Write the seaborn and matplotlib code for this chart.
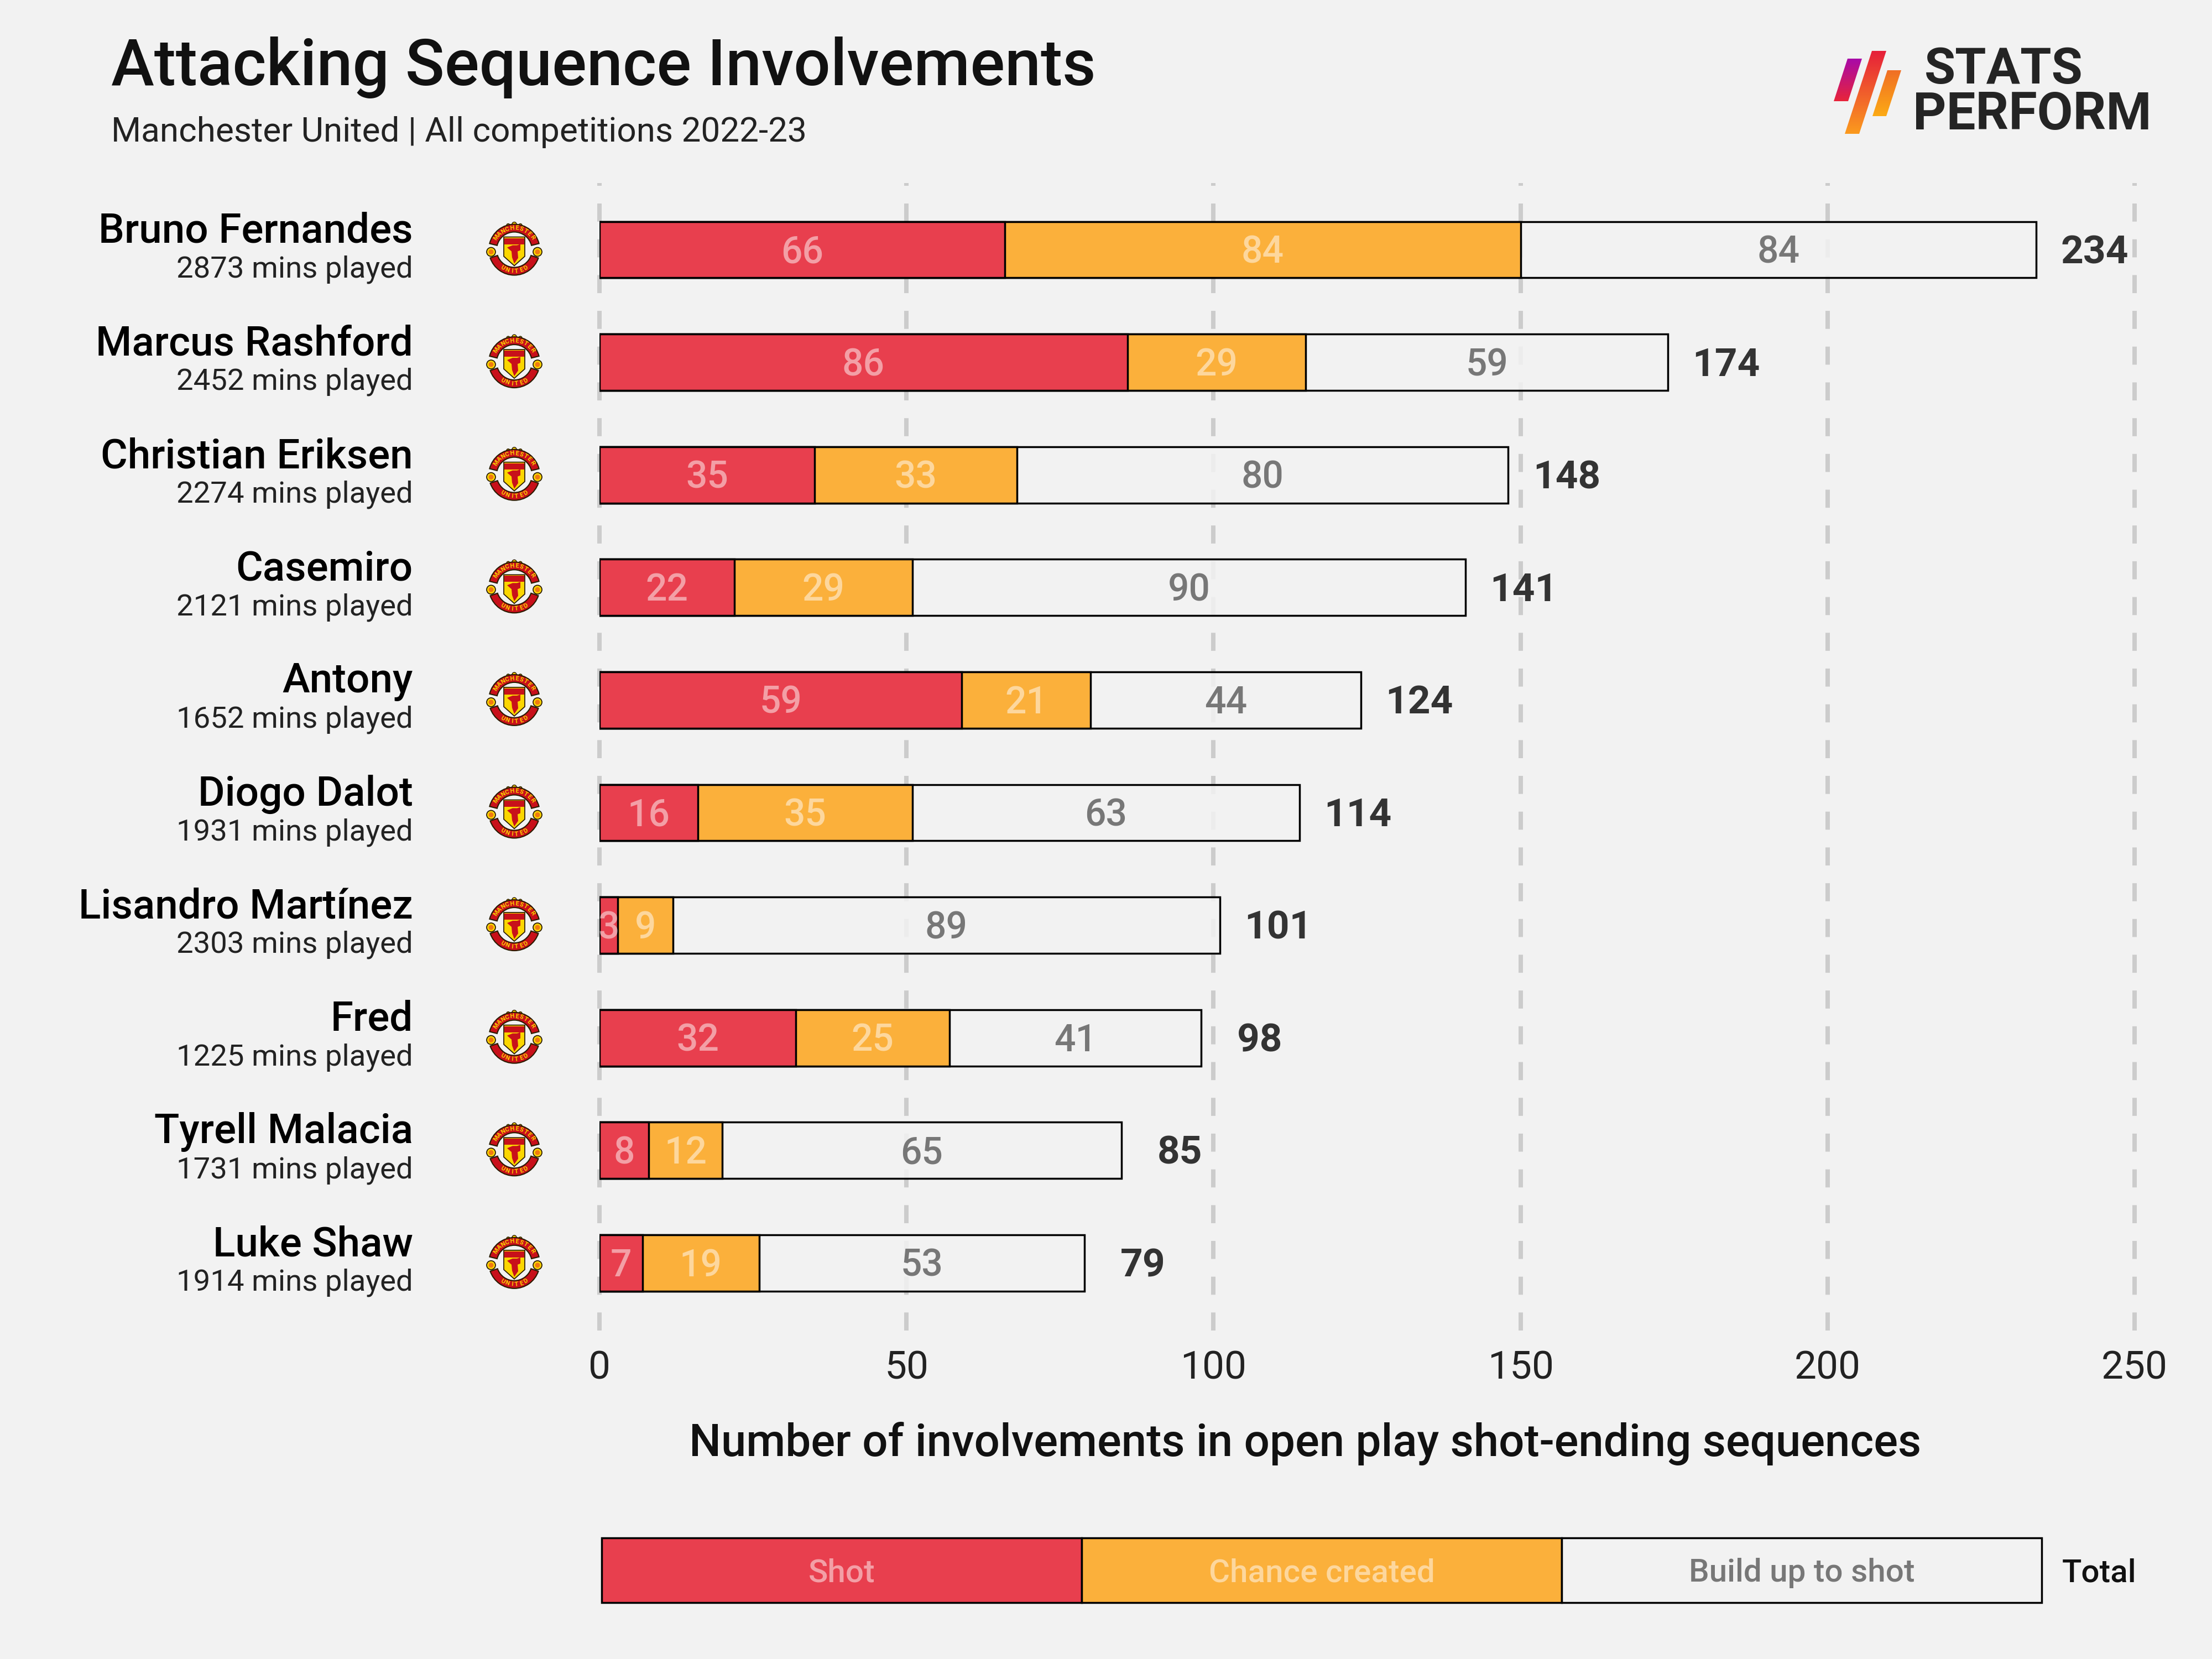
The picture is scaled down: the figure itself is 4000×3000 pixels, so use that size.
import numpy as np
import pandas as pd
import matplotlib.pyplot as plt
import seaborn as sns
from matplotlib.colors import to_rgb
from matplotlib.patches import Circle, Polygon, Rectangle, Wedge

# Values
players = ['Bruno Fernandes', 'Marcus Rashford', 'Christian Eriksen', 'Casemiro', 'Antony',
           'Diogo Dalot', 'Lisandro Martínez', 'Fred', 'Tyrell Malacia', 'Luke Shaw']
minutes = [2873, 2452, 2274, 2121, 1652, 1931, 2303, 1225, 1731, 1914]
shot = [66, 86, 35, 22, 59, 16, 3, 32, 8, 7]
chance = [84, 29, 33, 29, 21, 35, 9, 25, 12, 19]
build_up = [84, 59, 80, 90, 44, 63, 89, 41, 65, 53]
x_ticks = [0, 50, 100, 150, 200, 250]
legend_labels = ['Shot', 'Chance created', 'Build up to shot']

BG = '#f2f2f2'
RED = '#e83f4e'
ORANGE = '#fbb03b'
FONT = ['Roboto', 'DejaVu Sans']

sns.set_theme(style='white', rc={'figure.facecolor': BG, 'axes.facecolor': BG})
plt.rcParams['font.family'] = FONT

df = pd.DataFrame({'player': players, 'shot': shot, 'chance': chance, 'build_up': build_up})
df['to_chance'] = df['shot'] + df['chance']
df['total'] = df['to_chance'] + df['build_up']

fig = plt.figure(figsize=(16, 12), dpi=250)
fig.patch.set_facecolor(BG)

# main axes: x 0-250 spans 1084-3860 px, rows run 451.5 + 203.6*i px
ax = fig.add_axes([1084 / 4000, 1 - 2406 / 3000, 2776 / 4000, 2075 / 3000])
edge = dict(edgecolor='black', linewidth=1, width=0.5, orient='h', zorder=3)
sns.barplot(data=df, y='player', x='total', color=BG, saturation=1, ax=ax, **edge)
# the grid shows very faintly through the open part of the bars
for bar in ax.patches:
    bar.set_facecolor((*to_rgb(BG), 0.85))
sns.barplot(data=df, y='player', x='to_chance', color=ORANGE, saturation=1, ax=ax, **edge)
sns.barplot(data=df, y='player', x='shot', color=RED, saturation=1, ax=ax, **edge)
ax.set_xlim(0, 250)
ax.set_ylim(9.60, -0.592)
ax.set_xlabel('')
ax.set_ylabel('')
ax.set_yticks([])
ax.set_xticks(x_ticks)
ax.set_xticklabels([str(t) for t in x_ticks], fontsize=20.5, fontweight='normal', color='#222222')
ax.tick_params(axis='x', length=0, pad=10)
ax.grid(axis='x', color='#cccccc', linewidth=2.3, linestyle=(0, (4.09, 4.01)), zorder=0)
ax.set_axisbelow(True)
for line in ax.get_xgridlines():
    line.set_clip_on(False)
sns.despine(ax=ax, left=True, bottom=True)

name_tf = ax.get_yaxis_transform()
for i, row in df.iterrows():
    ax.text(row['shot'] / 2, i + 0.025, str(row['shot']), color='white', alpha=0.5, fontsize=19.5,
            fontweight='medium', ha='center', va='center', zorder=5)
    ax.text(row['shot'] + row['chance'] / 2, i + 0.025, str(row['chance']), color='white', alpha=0.5,
            fontsize=19.5, fontweight='medium', ha='center', va='center', zorder=5)
    ax.text(row['to_chance'] + row['build_up'] / 2, i + 0.025, str(row['build_up']), color='#777777',
            fontsize=19.5, fontweight='medium', ha='center', va='center', zorder=5)
    ax.text(row['total'] + 9.5, i + 0.025, str(row['total']), color='#333333', fontsize=20.5,
            fontweight='semibold', ha='center', va='center', zorder=5)
    ax.text(-0.1214, i - 0.163, row['player'], transform=name_tf, color='black', fontsize=21.5,
            fontweight='medium', ha='right', va='center')
    ax.text(-0.1214, i + 0.175, f"{minutes[i]} mins played", transform=name_tf, color='#222222',
            fontsize=15.7, fontweight='normal', ha='right', va='center')

# overlay in reference pixels, y pointing down
over = fig.add_axes([0, 0, 1, 1], facecolor='none', zorder=10)
over.set_xlim(0, 4000)
over.set_ylim(3000, 0)
over.axis('off')


def draw_crest(cx, cy):
    """Club badge, built from patches around (cx, cy)."""
    red, yellow, dark = '#c8101a', '#fbd600', '#2a1a00'
    over.add_patch(Circle((cx, cy - 46), 4, fc=yellow, ec=dark, lw=0.4))
    over.add_patch(Circle((cx - 11, cy - 44), 3, fc=yellow, ec=dark, lw=0.4))
    over.add_patch(Circle((cx + 11, cy - 44), 3, fc=yellow, ec=dark, lw=0.4))
    over.add_patch(Wedge((cx, cy), 46, 194, 346, width=14, fc=red, ec=dark, lw=0.6))
    over.add_patch(Wedge((cx, cy), 46, 19, 161, width=14, fc=red, ec=dark, lw=0.6))
    for side in (-1, 1):
        over.add_patch(Circle((cx + side * 42, cy + 4), 8, fc=yellow, ec=dark, lw=0.5))
        over.add_patch(Circle((cx + side * 42, cy + 4), 4.5, fc='#f07a10', ec='none'))
    over.add_patch(Polygon([(cx - 19, cy - 23), (cx + 19, cy - 23), (cx + 19, cy + 12), (cx, cy + 29),
                            (cx - 19, cy + 12)], closed=True, fc=yellow, ec=dark, lw=0.5))
    over.add_patch(Rectangle((cx - 18, cy - 21), 36, 11, fc=red, ec='none'))
    over.add_patch(Polygon([(cx - 13, cy - 4), (cx - 3, cy - 8), (cx + 5, cy - 8), (cx + 11, cy - 10),
                            (cx + 11, cy + 1), (cx + 6, cy + 3), (cx + 7, cy + 15), (cx, cy + 25),
                            (cx - 4, cy + 14), (cx - 5, cy + 3)], closed=True, fc=red, ec='none'))
    for word, r, span, top in (('MANCHESTER', 39, 56, True), ('UNITED', 39, 32, False)):
        for k, ch in enumerate(word):
            phi = -span + 2 * span * k / (len(word) - 1)
            rad = np.deg2rad(phi)
            y = cy - r * np.cos(rad) if top else cy + r * np.cos(rad)
            over.text(cx + r * np.sin(rad), y, ch, color=yellow, fontsize=3.2, fontweight='bold',
                      ha='center', va='center', rotation=-phi if top else phi)


for i in range(len(players)):
    cy = 3000 - ax.transData.transform((0, i))[1]
    draw_crest(930, cy)

# title block
over.text(201, 122, 'Attacking Sequence Involvements', fontsize=33.7, fontweight='medium', color='#111111',
          ha='left', va='center')
over.text(201, 239, 'Manchester United | All competitions 2022-23', fontsize=17.9, fontweight='normal',
          color='#222222', ha='left', va='center')
over.text(2360, 2611, 'Number of involvements in open play shot-ending sequences', fontsize=23.5,
          fontweight='medium', color='#111111', ha='center', va='center')

# logo marks with gradient fill
logo_bars = [
    ([(3341, 106), (3367, 106), (3342, 183), (3316, 183)], '#a80aa8', '#e8243a', 106, 183),
    ([(3385, 92), (3411, 92), (3362, 242), (3336, 242)], '#e6203a', '#fb9a1e', 92, 242),
    ([(3413, 127), (3438, 127), (3411, 210), (3386, 210)], '#f06f25', '#fcaa15', 127, 210),
]
for pts, c0, c1, y0, y1 in logo_bars:
    rgb0, rgb1 = np.array(to_rgb(c0)), np.array(to_rgb(c1))
    grad = np.linspace(0, 1, 64)[:, None, None] * (rgb1 - rgb0) + rgb0
    xs = [p[0] for p in pts]
    img = over.imshow(grad, extent=(min(xs), max(xs), y1, y0), aspect='auto', zorder=2)
    poly = Polygon(pts, closed=True, fc='none', ec='none', transform=over.transData)
    over.add_patch(poly)
    img.set_clip_path(poly)
over.set_xlim(0, 4000)
over.set_ylim(3000, 0)
over.text(3480, 126, 'STATS', fontsize=26.3, fontweight='bold', color='#242424', ha='left', va='center')
over.text(3459, 208, 'PERFORM', fontsize=27, fontweight='bold', color='#242424', ha='left', va='center')

# legend strip
leg_x = [1088, 1956, 2824, 3692]
leg_fill = [RED, ORANGE, BG]
leg_text = ['white', 'white', '#777777']
for k, label in enumerate(legend_labels):
    over.add_patch(Rectangle((leg_x[k], 2781), leg_x[k + 1] - leg_x[k], 117, fc=leg_fill[k], ec='black', lw=1))
    over.text((leg_x[k] + leg_x[k + 1]) / 2, 2845, label, color=leg_text[k], alpha=0.5 if k < 2 else 1,
              fontsize=16.8, fontweight='medium', ha='center', va='center')
over.text(3796, 2845, 'Total', fontsize=16.8, fontweight='medium', color='#111111', ha='center', va='center')

fig.savefig('out.png', dpi=250, facecolor=BG)
